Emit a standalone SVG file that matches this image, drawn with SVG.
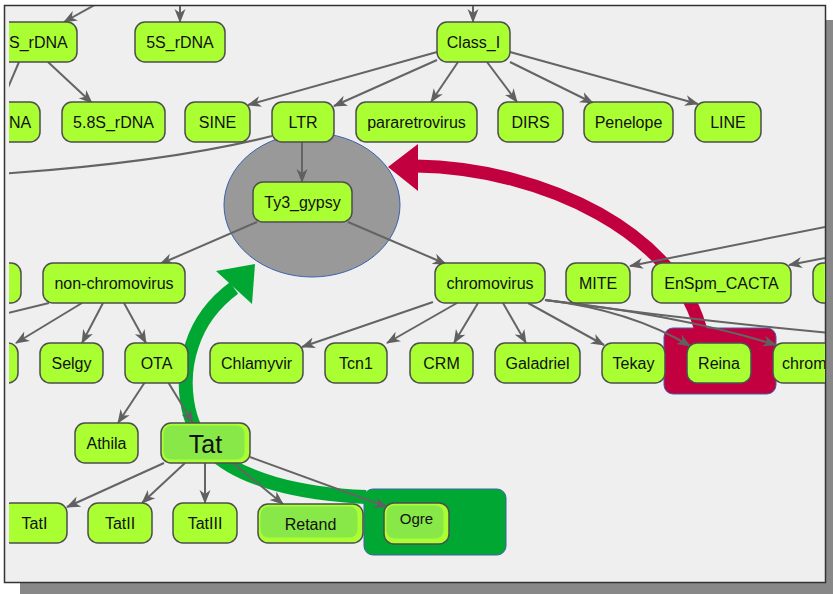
<svg xmlns="http://www.w3.org/2000/svg" width="833" height="594" viewBox="0 0 833 594">
  <defs>
    <marker id="arr" markerWidth="14" markerHeight="12" refX="13" refY="6" orient="auto" markerUnits="userSpaceOnUse">
      <path d="M0,0.5 L14,6 L0,11.5 L4,6 z" fill="#606060"/>
    </marker>
    <clipPath id="view">
      <rect x="9" y="6" width="816" height="576"/>
    </clipPath>
    <style>
      .node rect.box { fill: #aaff33; stroke: #4e4e4e; stroke-width: 1.5; }
      .node rect.inner { fill: #88e848; stroke: none; }
      .node text { font-family: "Liberation Sans", Arial, sans-serif; font-size: 16px; fill: #111; text-anchor: middle; }
      .edge { fill: none; stroke: #646464; stroke-width: 2; }
      .edge .a { marker-end: url(#arr); }
      .grp { stroke: #3a62ad; stroke-width: 1; }
    </style>
  </defs>

  <!-- page with drop shadow -->
  <rect x="20" y="20" width="813" height="574" fill="#888"/>
  <rect x="4.5" y="5.5" width="821" height="577" fill="#efefef" stroke="#333" stroke-width="1.5"/>

  <g clip-path="url(#view)">
    <!-- group highlights -->
    <g id="groups">
      <ellipse id="grp-ty3" class="grp" cx="312" cy="205" rx="88" ry="72" fill="#999"/>
      <rect id="grp-reina" class="grp" x="664" y="328" width="112" height="66" rx="9" fill="#c2003f"/>
      <rect id="grp-ogre" class="grp" x="364" y="489" width="142" height="66" rx="9" fill="#00a833"/>
    </g>

    <!-- thick relation arrows -->
    <g id="bands">
      <path d="M 702 335 C 680 235, 545 168, 416 166" fill="none" stroke="#c2003f" stroke-width="13"/>
      <polygon points="388,167 418,144 418,191" fill="#c2003f"/>
      <path d="M 366 497 C 300 494, 240 480, 210 450 C 185 425, 180 380, 192 345 C 200 320, 215 302, 234 288" fill="none" stroke="#00a833" stroke-width="14"/>
      <polygon points="216,271 255,264 252,304" fill="#00a833"/>
    </g>

    <!-- connectors -->
    <g id="connectors" class="edge">
      <path class="a" d="M 100 2 L 64 22"/>
      <path class="a" d="M 180 0 L 180 22"/>
      <path class="a" d="M 473 0 L 473 22"/>
      <path class="a" d="M 48 62 L 92 103"/>
      <path d="M 19 62 L 0 106"/>
      <path class="a" d="M 437 52 L 248 105"/>
      <path class="a" d="M 437 60 L 334 106"/>
      <path class="a" d="M 458 62 L 431 102"/>
      <path class="a" d="M 487 62 L 517 102"/>
      <path class="a" d="M 510 62 L 593 103"/>
      <path class="a" d="M 510 52 L 698 104"/>
      <path class="a" d="M 302 142 L 302 182"/>
      <path d="M 272 136 Q 170 162 0 174"/>
      <path class="a" d="M 257 222 L 160 264"/>
      <path class="a" d="M 348 222 L 446 264"/>
      <path class="a" d="M 830 226 L 630 266"/>
      <path class="a" d="M 830 257 L 789 265"/>
      <path d="M 49 303 L 0 315"/>
      <path class="a" d="M 82 303 L 16 343"/>
      <path class="a" d="M 103 303 L 82 343"/>
      <path class="a" d="M 124 303 L 146 343"/>
      <path class="a" d="M 433 302 L 302 347"/>
      <path class="a" d="M 457 303 L 387 343"/>
      <path class="a" d="M 478 303 L 454 343"/>
      <path class="a" d="M 503 303 L 526 343"/>
      <path class="a" d="M 528 303 L 604 345"/>
      <path class="a" d="M 545 300 Q 630 310 690 346"/>
      <path class="a" d="M 545 300 Q 680 315 776 345"/>
      <path d="M 545 300 Q 690 320 830 333"/>
      <path class="a" d="M 145 382 L 118 423"/>
      <path class="a" d="M 168 382 L 193 423"/>
      <path class="a" d="M 164 463 L 67 507"/>
      <path class="a" d="M 185 463 L 142 503"/>
      <path class="a" d="M 205 463 L 205 503"/>
      <path class="a" d="M 233 463 L 283 504"/>
      <path class="a" d="M 250 457 L 387 507"/>
    </g>

    <!-- nodes -->
    <g id="n-18s" class="node"><rect class="box" x="-30" y="22" width="107" height="40" rx="10"/><text x="9" y="48" style="text-anchor:start">S_rDNA</text></g>
    <g id="n-5s" class="node"><rect class="box" x="135" y="22" width="90" height="40" rx="10"/><text x="180" y="48">5S_rDNA</text></g>
    <g id="n-class1" class="node"><rect class="box" x="437" y="22" width="73" height="40" rx="10"/><text x="473.5" y="48">Class_I</text></g>

    <g id="n-na" class="node"><rect class="box" x="-30" y="102" width="70" height="40" rx="10"/><text x="9" y="128" style="text-anchor:start">NA</text></g>
    <g id="n-58s" class="node"><rect class="box" x="62" y="102" width="103" height="40" rx="10"/><text x="113.5" y="128">5.8S_rDNA</text></g>
    <g id="n-sine" class="node"><rect class="box" x="185" y="102" width="65" height="40" rx="10"/><text x="217.5" y="128">SINE</text></g>
    <g id="n-ltr" class="node"><rect class="box" x="272" y="102" width="62" height="40" rx="10"/><text x="303" y="128">LTR</text></g>
    <g id="n-pararetro" class="node"><rect class="box" x="356" y="102" width="121" height="40" rx="10"/><text x="416.5" y="128">pararetrovirus</text></g>
    <g id="n-dirs" class="node"><rect class="box" x="498" y="102" width="65" height="40" rx="10"/><text x="530.5" y="128">DIRS</text></g>
    <g id="n-penelope" class="node"><rect class="box" x="584" y="102" width="89" height="40" rx="10"/><text x="628.5" y="128">Penelope</text></g>
    <g id="n-line" class="node"><rect class="box" x="695" y="102" width="66" height="40" rx="10"/><text x="728" y="128">LINE</text></g>

    <g id="n-ty3" class="node"><rect class="box" x="253" y="182" width="99" height="40" rx="10"/><text x="302.5" y="208">Ty3_gypsy</text></g>

    <g id="n-left3" class="node"><rect class="box" x="-30" y="263" width="51" height="40" rx="10"/></g>
    <g id="n-nonchromo" class="node"><rect class="box" x="43" y="263" width="142" height="40" rx="10"/><text x="114" y="289">non-chromovirus</text></g>
    <g id="n-chromo" class="node"><rect class="box" x="435" y="263" width="110" height="40" rx="10"/><text x="490" y="289">chromovirus</text></g>
    <g id="n-mite" class="node"><rect class="box" x="566" y="263" width="64" height="40" rx="10"/><text x="598" y="289">MITE</text></g>
    <g id="n-enspm" class="node"><rect class="box" x="652" y="263" width="139" height="40" rx="10"/><text x="721.5" y="289">EnSpm_CACTA</text></g>
    <g id="n-right3" class="node"><rect class="box" x="813" y="263" width="60" height="40" rx="10"/></g>

    <g id="n-left4" class="node"><rect class="box" x="-30" y="343" width="48" height="40" rx="10"/></g>
    <g id="n-selgy" class="node"><rect class="box" x="40" y="343" width="63" height="40" rx="10"/><text x="71.5" y="369">Selgy</text></g>
    <g id="n-ota" class="node"><rect class="box" x="125" y="343" width="63" height="40" rx="10"/><text x="156.5" y="369">OTA</text></g>
    <g id="n-chlamyvir" class="node"><rect class="box" x="210" y="343" width="93" height="40" rx="10"/><text x="256.5" y="369">Chlamyvir</text></g>
    <g id="n-tcn1" class="node"><rect class="box" x="325" y="343" width="62" height="40" rx="10"/><text x="356" y="369">Tcn1</text></g>
    <g id="n-crm" class="node"><rect class="box" x="410" y="343" width="63" height="40" rx="10"/><text x="441.5" y="369">CRM</text></g>
    <g id="n-galadriel" class="node"><rect class="box" x="495" y="343" width="85" height="40" rx="10"/><text x="537.5" y="369">Galadriel</text></g>
    <g id="n-tekay" class="node"><rect class="box" x="602" y="343" width="63" height="40" rx="10"/><text x="633.5" y="369">Tekay</text></g>
    <g id="n-reina" class="node"><rect class="box" x="687" y="343" width="64" height="40" rx="10"/><text x="719" y="369">Reina</text></g>
    <g id="n-chrom" class="node"><rect class="box" x="773" y="343" width="80" height="40" rx="10"/><text x="782" y="369" style="text-anchor:start">chrom</text></g>

    <g id="n-athila" class="node"><rect class="box" x="75" y="423" width="63" height="40" rx="10"/><text x="106.5" y="449">Athila</text></g>
    <g id="n-tat" class="node"><rect class="box" x="161" y="423" width="89" height="40" rx="10"/><rect class="inner" x="163.5" y="425.5" width="81" height="34" rx="8"/><text x="205.5" y="453" style="font-size:25px">Tat</text></g>

    <g id="n-tat1" class="node"><rect class="box" x="1" y="503" width="66" height="40" rx="10"/><text x="34.5" y="529">TatI</text></g>
    <g id="n-tat2" class="node"><rect class="box" x="88" y="503" width="64" height="40" rx="10"/><text x="120" y="529">TatII</text></g>
    <g id="n-tat3" class="node"><rect class="box" x="173" y="503" width="64" height="40" rx="10"/><text x="205" y="529">TatIII</text></g>
    <g id="n-retand" class="node"><rect class="box" x="258" y="504" width="105" height="39" rx="10"/><rect class="inner" x="260.5" y="506.5" width="97" height="31" rx="8"/><text x="310.5" y="530">Retand</text></g>
    <g id="n-ogre" class="node"><rect class="box" x="384" y="503" width="65" height="41" rx="10"/><rect class="inner" x="386.5" y="505.5" width="57" height="33" rx="8"/><text x="416.5" y="524" style="font-size:15px">Ogre</text></g>
  </g>
</svg>
